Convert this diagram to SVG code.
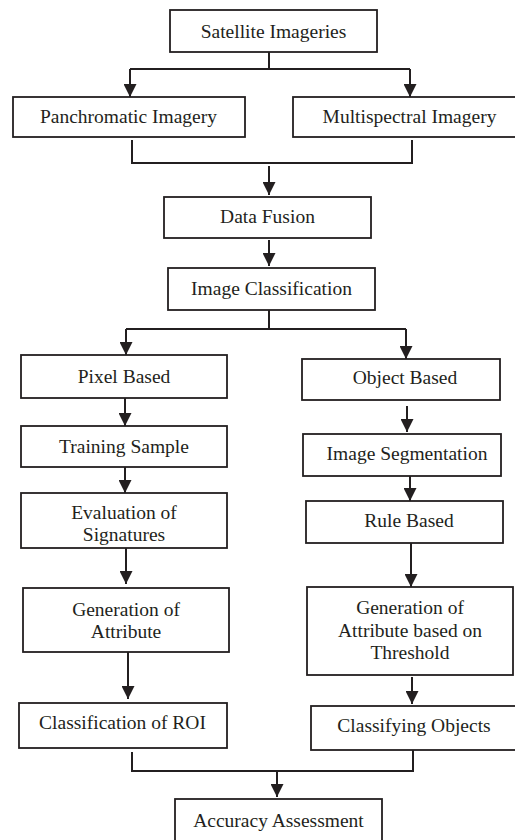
<svg xmlns="http://www.w3.org/2000/svg" width="515" height="840" viewBox="0 0 515 840">
<style>
.box{fill:#fff;stroke:#231f20;stroke-width:1.8}
.c{fill:none;stroke:#231f20;stroke-width:2}
</style>
<defs>
<marker id="ah" markerUnits="userSpaceOnUse" markerWidth="13" markerHeight="13" viewBox="0 0 13 13" refX="13" refY="6.5" orient="auto">
<path d="M0,0 L13,6.5 L0,13 z" fill="#231f20"/>
</marker>
</defs>
<rect width="515" height="840" fill="#fff"/>
<g id="connectors">
<path class="c" d="M269,52 V69 M130,69 H410"/>
<path class="c" d="M130,69 V97" marker-end="url(#ah)"/>
<path class="c" d="M410,69 V97" marker-end="url(#ah)"/>
<path class="c" d="M132,140 V163 H412 V140"/>
<path class="c" d="M269,166 V195" marker-end="url(#ah)"/>
<path class="c" d="M269,240 V266" marker-end="url(#ah)"/>
<path class="c" d="M269,310 V329 M126,329 H406"/>
<path class="c" d="M126,329 V355" marker-end="url(#ah)"/>
<path class="c" d="M406,329 V359" marker-end="url(#ah)"/>
<path class="c" d="M125,398 V426" marker-end="url(#ah)"/>
<path class="c" d="M125,467 V493" marker-end="url(#ah)"/>
<path class="c" d="M126,548 V584" marker-end="url(#ah)"/>
<path class="c" d="M128,652 V699" marker-end="url(#ah)"/>
<path class="c" d="M407,406 V432" marker-end="url(#ah)"/>
<path class="c" d="M410,476 V501" marker-end="url(#ah)"/>
<path class="c" d="M411,543 V587" marker-end="url(#ah)"/>
<path class="c" d="M412,677 V704" marker-end="url(#ah)"/>
<path class="c" d="M132,752 V771 H413 V750"/>
<path class="c" d="M277,771 V797" marker-end="url(#ah)"/>
</g>
<g font-family="Liberation Serif" font-size="19.5" fill="#231f20" text-anchor="middle">
<g id="satellite"><rect class="box" x="170" y="10" width="207" height="42"/><text x="273.5" y="38">Satellite Imageries</text></g>
<g id="panchromatic"><rect class="box" x="13" y="97" width="232" height="40"/><text x="128.5" y="123">Panchromatic Imagery</text></g>
<g id="multispectral"><rect class="box" x="293" y="97" width="235" height="40"/><text x="409.5" y="123">Multispectral Imagery</text></g>
<g id="datafusion"><rect class="box" x="164" y="197" width="207" height="41"/><text x="267.5" y="223">Data Fusion</text></g>
<g id="imageclass"><rect class="box" x="168" y="268" width="207" height="42"/><text x="271.5" y="295">Image Classification</text></g>
<g id="pixel"><rect class="box" x="21" y="355" width="206" height="43"/><text x="124" y="383">Pixel Based</text></g>
<g id="training"><rect class="box" x="21" y="426" width="206" height="41"/><text x="124" y="453">Training Sample</text></g>
<g id="evaluation"><rect class="box" x="21" y="493" width="206" height="55"/><text x="124" y="519">Evaluation of</text><text x="124" y="541">Signatures</text></g>
<g id="genattr"><rect class="box" x="23" y="588" width="206" height="64"/><text x="126" y="616">Generation of</text><text x="126" y="638">Attribute</text></g>
<g id="roi"><rect class="box" x="19" y="703" width="208" height="45"/><text x="122.5" y="729">Classification of ROI</text></g>
<g id="object"><rect class="box" x="302" y="359" width="198" height="41"/><text x="405" y="384">Object Based</text></g>
<g id="segmentation"><rect class="box" x="303" y="434" width="198" height="42"/><text x="407" y="460">Image Segmentation</text></g>
<g id="rule"><rect class="box" x="306" y="501" width="197" height="42"/><text x="409" y="527">Rule Based</text></g>
<g id="threshold"><rect class="box" x="307" y="587" width="206" height="88"/><text x="410" y="614">Generation of</text><text x="410" y="637">Attribute based on</text><text x="410" y="659">Threshold</text></g>
<g id="classifying"><rect class="box" x="311" y="706" width="210" height="44"/><text x="414" y="732">Classifying Objects</text></g>
<g id="accuracy"><rect class="box" x="175" y="799" width="207" height="50"/><text x="278.5" y="827">Accuracy Assessment</text></g>
</g>
</svg>
